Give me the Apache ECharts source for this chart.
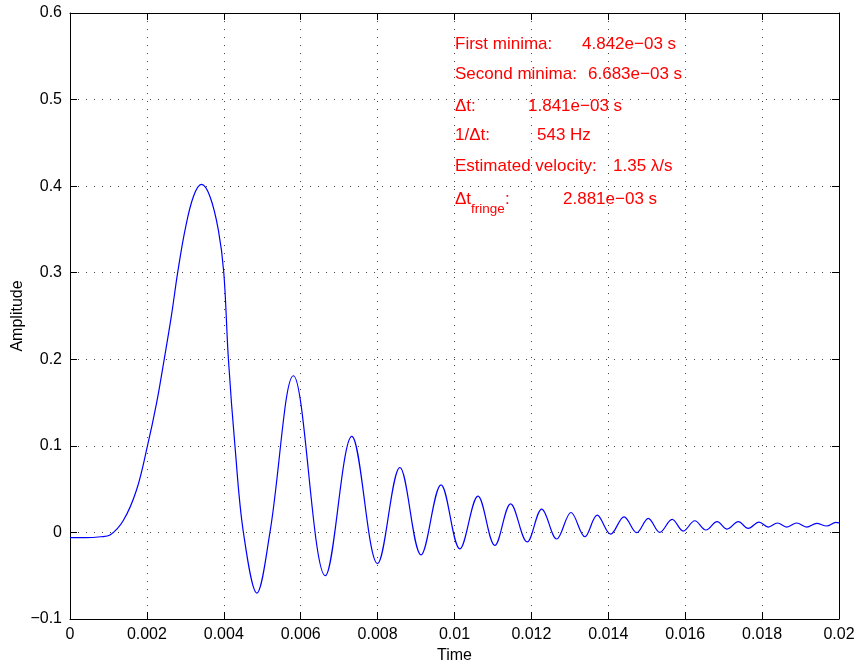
<!DOCTYPE html>
<html>
<head>
<meta charset="utf-8">
<script src="https://cdn.jsdelivr.net/npm/echarts@6/dist/echarts.min.js"></script>
<style>
  html, body { margin: 0; padding: 0; background: #fff; }
  #chart { width: 861px; height: 669px; }
</style>
</head>
<body>
<div id="chart"></div>
<script>
// Time samples (s) of the recorded signal
const timeVals = [
  0, 0.0004, 0.0008, 0.00104, 0.00139, 0.00173, 0.00201, 0.00225, 0.00245, 0.00264,
  0.00280, 0.00299, 0.00321, 0.00342, 0.00364, 0.00386, 0.00400, 0.00412, 0.00429, 0.00451,
  0.00486, 0.00520, 0.00581, 0.00664, 0.00733, 0.00800, 0.00858, 0.00913, 0.00965, 0.01014,
  0.01061, 0.01105, 0.01146, 0.01189, 0.01227, 0.01266, 0.01303, 0.01339, 0.01371,
  0.01406, 0.01441, 0.01474, 0.01504, 0.01534, 0.01566, 0.01595, 0.01625, 0.01654, 0.01683,
  0.01709, 0.01738, 0.01764, 0.01792, 0.01816, 0.01840, 0.01864, 0.01890, 0.01916, 0.01942,
  0.01968, 0.01992, 0.02
];
// Amplitude at each time sample
const ampVals = [
  -0.006, -0.006, -0.005, -0.003, 0.014, 0.049, 0.099, 0.149, 0.200, 0.251,
  0.300, 0.349, 0.388, 0.402, 0.388, 0.349, 0.300, 0.200, 0.100, 0.0,
  -0.070, 0.0, 0.181, -0.050, 0.111, -0.036, 0.075, -0.026, 0.055, -0.019,
  0.042, -0.015, 0.033, -0.011, 0.027, -0.0076, 0.023, -0.005, 0.020,
  -0.002, 0.018, -0.0003, 0.0163, 0.0, 0.0151, 0.0016, 0.0135, 0.0028, 0.0124,
  0.0039, 0.0124, 0.0047, 0.012, 0.0062, 0.0109, 0.0062, 0.0109, 0.0062, 0.0105,
  0.0074, 0.0117, 0.011
];

// Axis ranges and tick spacing
const xRange = [0, 0.02];
const xStep = 0.002;
const yRange = [-0.1, 0.6];
const yStep = 0.1;

// Annotation lines: [label, value text]
const infoLabels = ['First minima:', 'Second minima:', '\u0394t:', '1/\u0394t:', 'Estimated velocity:'];
const infoValues = ['4.842e\u221203 s', '6.683e\u221203 s', '1.841e\u221203 s', '543 Hz', '1.35 \u03bb/s'];
const fringeValue = '2.881e\u221203 s';

const FONT = '"Liberation Sans", Arial, Helvetica, sans-serif';
const RED = '#ff0000';
const NOTE_FONT = '17px ' + FONT;

function fmt(v) {
  return String(parseFloat(v.toFixed(4))).replace('-', '\u2212');
}

const gridStyle = { color: '#444', width: 1, type: [1, 7] };

function makeX(pos, labels) {
  return {
    type: 'value', position: pos, min: xRange[0], max: xRange[1], interval: xStep,
    axisLine: { show: true, onZero: false, lineStyle: { color: '#000', width: 1 } },
    axisTick: { show: true, inside: true, length: 7, lineStyle: { color: '#000' } },
    axisLabel: { show: labels, formatter: fmt, fontFamily: FONT, fontSize: 16, color: '#000', margin: 8 },
    splitLine: { show: labels, lineStyle: gridStyle },
    name: labels ? 'Time' : '', nameLocation: 'middle', nameGap: 28,
    nameTextStyle: { fontFamily: FONT, fontSize: 16, color: '#000' }
  };
}
function makeY(pos, labels) {
  return {
    type: 'value', position: pos, min: yRange[0], max: yRange[1], interval: yStep,
    axisLine: { show: true, onZero: false, lineStyle: { color: '#000', width: 1 } },
    axisTick: { show: true, inside: true, length: 7, lineStyle: { color: '#000' } },
    axisLabel: { show: labels, formatter: fmt, fontFamily: FONT, fontSize: 16, color: '#000', margin: 8 },
    splitLine: { show: labels, lineStyle: gridStyle }
  };
}

// Vertical axis title, placed beside the tick labels
const graphics = [{
  type: 'text', x: 18, y: 316, rotation: Math.PI / 2,
  style: { text: 'Amplitude', fill: '#000', font: '16px ' + FONT, align: 'center', verticalAlign: 'middle' }
}];

// Annotation text layout
const infoRows = [44, 74, 106, 135, 166];
const valueX = [582, 588, 528, 537, 613];
infoLabels.forEach((lab, i) => {
  graphics.push({ type: 'text', x: 455, y: infoRows[i], style: { text: lab, fill: RED, font: NOTE_FONT, verticalAlign: 'middle' } });
  graphics.push({ type: 'text', x: valueX[i], y: infoRows[i], style: { text: infoValues[i], fill: RED, font: NOTE_FONT, verticalAlign: 'middle' } });
});
graphics.push({ type: 'text', x: 455, y: 199, style: { text: '\u0394t', fill: RED, font: NOTE_FONT, verticalAlign: 'middle' } });
graphics.push({ type: 'text', x: 471, y: 209, style: { text: 'fringe', fill: RED, font: '13.5px ' + FONT, verticalAlign: 'middle' } });
graphics.push({ type: 'text', x: 505, y: 199, style: { text: ':', fill: RED, font: NOTE_FONT, verticalAlign: 'middle' } });
graphics.push({ type: 'text', x: 563, y: 199, style: { text: fringeValue, fill: RED, font: NOTE_FONT, verticalAlign: 'middle' } });

const chart = echarts.init(document.getElementById('chart'), null, { renderer: 'canvas' });
chart.setOption({
  animation: false,
  backgroundColor: '#fff',
  grid: { left: 70, right: 22, top: 13, bottom: 50, containLabel: false, outerBoundsMode: 'none' },
  xAxis: [makeX('bottom', true), makeX('top', false)],
  yAxis: [makeY('left', true), makeY('right', false)],
  series: [{
    type: 'line',
    xAxisIndex: 0, yAxisIndex: 0,
    data: timeVals.map((t, i) => [t, ampVals[i]]),
    showSymbol: false,
    smooth: 0.36,
    lineStyle: { color: '#0000ff', width: 1.2 },
    clip: true
  }],
  graphic: graphics
});
</script>
</body>
</html>
